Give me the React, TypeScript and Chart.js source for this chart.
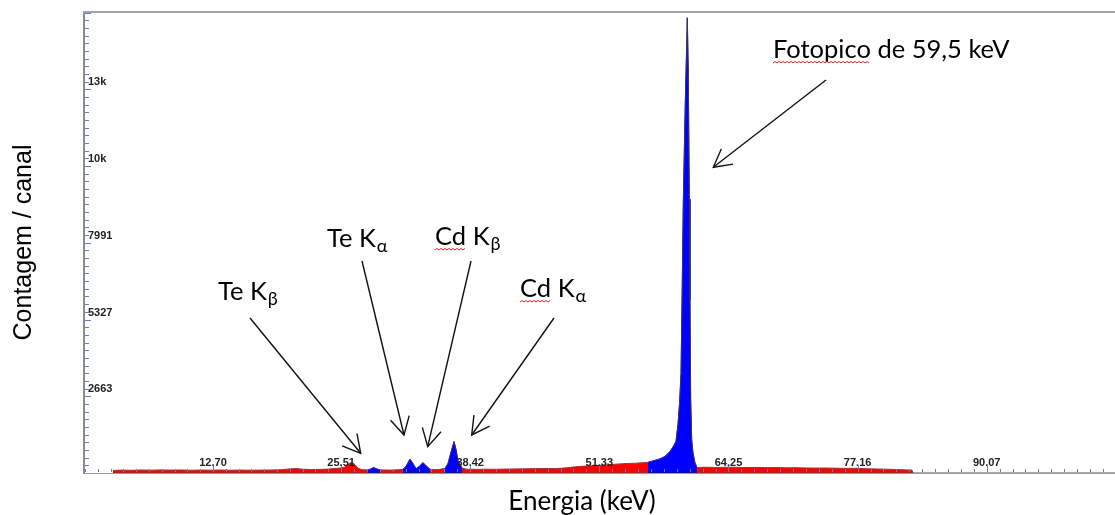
import React, { useEffect, useRef } from "react";
import { Chart, registerables } from "chart.js";

Chart.register(...registerables);

// ---------- data ----------
const ENERGY_KEV = [
  2.7, 3.5, 4.5, 5.5, 6.5, 7.5, 8.5, 9.5, 10.5, 11.5, 12.5, 13.5, 14.5, 15.5, 16.5, 17.5, 18.5, 19.5,
  20.3, 21.0, 21.7, 22.5, 23.5, 24.2, 24.8, 25.4, 25.9, 26.3, 26.6, 26.9, 27.2, 27.6,
  28.2, 28.5, 28.75, 29.0, 29.4, 30.0, 30.6, 31.2,
  31.7, 32.0, 32.4, 32.7, 33.0, 33.3, 33.7, 34.0, 34.4, 34.9, 35.4,
  35.9, 36.2, 36.5, 36.8, 37.0, 37.2, 37.6, 38.0, 39.0, 40.0, 41.0, 42.0, 43.0, 44.0, 45.0, 46.0,
  47.0, 48.0, 49.0, 50.0, 51.0, 52.0, 53.0, 54.0, 55.0, 55.7,
  56.2, 56.9, 57.4, 57.9, 58.4, 58.7, 59.0, 59.2, 59.35, 59.5, 59.6, 59.73, 59.93, 60.05, 60.13,
  60.23, 60.33, 60.4, 60.47, 60.57, 60.7, 60.9, 61.1,
  61.5, 62.0, 63.0, 64.0, 65.0, 66.0, 67.0, 68.0, 69.0, 70.0, 71.0, 72.0, 73.0, 74.0, 75.0, 76.0,
  77.0, 78.0, 79.0, 80.0, 81.0, 82.0, 82.6, 82.7, 102.9,
];

const COUNTS = [
  90, 100, 94, 105, 98, 108, 101, 105, 96, 103, 99, 105, 97, 101, 96, 100, 104, 112,
  140, 155, 132, 120, 126, 136, 154, 170, 205, 320, 380, 290, 165, 115,
  108, 140, 190, 150, 108, 104, 100, 112,
  128, 230, 480, 330, 150, 220, 360, 250, 128, 116, 128,
  160, 330, 720, 1090, 820, 430, 170, 134, 126, 132, 130, 136, 142, 146, 152, 156,
  154, 178, 218, 242, 258, 278, 308, 328, 342, 357,
  370, 440, 490, 575, 750, 900, 1100, 1700, 2400, 3450, 5900, 9400, 12900, 14600, 15800,
  13900, 9500, 6000, 2550, 1150, 700, 350, 190,
  195, 200, 192, 200, 196, 188, 194, 186, 190, 180, 184, 175, 170, 174, 165, 160,
  163, 150, 140, 132, 120, 108, 100, 0, 0,
];

// regions of interest (blue), keV
const ROI_RANGES_KEV = [
  [28.2, 29.4],
  [31.7, 34.4],
  [35.9, 37.6],
  [56.2, 61.1],
];

const X_TICK_VALUES = [12.7, 25.51, 38.42, 51.33, 64.25, 77.16, 90.07];
const X_TICK_LABELS = ["12.70", "25.51", "38.42", "51.33", "64.25", "77.16", "90.07"];
const Y_TICK_VALUES = [2663.6, 5327.2, 7990.8, 10654.4, 13318];
const Y_TICK_LABELS = ["2663", "5327", "7991", "10k", "13k"];

const X_TITLE = "Energia (keV)";
const Y_TITLE = "Contagem / canal";

// annotations: label anchor, arrow start and arrow tip in data units (keV, counts)
const ANNOTATIONS = [
  { main: "Te K", sub: "β", squiggle: "", at: [13.2, 6005], from: [16.4, 5380], to: [27.47, 684] },
  { main: "Te K", sub: "α", squiggle: "", at: [24.1, 7844], from: [27.6, 7359], to: [31.8, 1319] },
  { main: "Cd K", sub: "β", squiggle: "Cd", at: [34.9, 7914], from: [38.5, 7359], to: [34.17, 913] },
  { main: "Cd K", sub: "α", squiggle: "Cd", at: [43.4, 6109], from: [46.8, 5380], to: [38.57, 1319] },
  { main: "Fotopico de 59,5 keV", sub: "", squiggle: "Fotopico", at: [68.7, 14405], from: [74.0, 13641], to: [62.73, 10611] },
];

const ANNOT_FONT = "Lato, 'Open Sans', sans-serif";

const inwardTicksPlugin = {
  id: "inwardTicks",
  afterDatasetsDraw(chart: any) {
    const { ctx, chartArea } = chart;
    const xs = chart.scales.x;
    const ys = chart.scales.y;
    ctx.save();
    ctx.strokeStyle = "#5b7fd6";
    ctx.lineWidth = 1;
    // y minor ticks (10 per major)
    const yStep = Y_TICK_VALUES[0] / 10;
    for (let i = 1; i * yStep <= ys.max; i++) {
      const py = Math.round(ys.getPixelForValue(i * yStep)) + 0.5;
      const len = i % 10 === 0 ? 6 : 4;
      ctx.beginPath();
      ctx.moveTo(chartArea.left + 1, py);
      ctx.lineTo(chartArea.left + 1 + len, py);
      ctx.stroke();
    }
    // x minor ticks (10 per major)
    const xt: { v: number; major: boolean }[] = [];
    const first = X_TICK_VALUES[0];
    const s0 = (X_TICK_VALUES[1] - X_TICK_VALUES[0]) / 10;
    for (let v = first - s0; v > xs.min; v -= s0) xt.push({ v, major: false });
    for (let k = 0; k < X_TICK_VALUES.length; k++) {
      xt.push({ v: X_TICK_VALUES[k], major: true });
      const next = k + 1 < X_TICK_VALUES.length ? X_TICK_VALUES[k + 1] : null;
      const step = next !== null ? (next - X_TICK_VALUES[k]) / 10 : (X_TICK_VALUES[k] - X_TICK_VALUES[k - 1]) / 10;
      const end = next !== null ? next - step / 2 : xs.max;
      for (let v = X_TICK_VALUES[k] + step; v < end; v += step) xt.push({ v, major: false });
    }
    for (const t of xt) {
      const px = Math.round(xs.getPixelForValue(t.v)) + 0.5;
      const len = t.major ? 6 : 3;
      ctx.beginPath();
      ctx.moveTo(px, chartArea.bottom - 1);
      ctx.lineTo(px, chartArea.bottom - 1 - len);
      ctx.stroke();
    }
    ctx.restore();
  },
};

function squiggle(ctx: any, x0: number, x1: number, y: number) {
  ctx.save();
  ctx.strokeStyle = "#e02020";
  ctx.lineWidth = 1;
  ctx.beginPath();
  let up = true;
  ctx.moveTo(x0, y);
  for (let x = x0 + 2; x <= x1; x += 2) {
    ctx.lineTo(x, up ? y - 1.5 : y);
    up = !up;
  }
  ctx.stroke();
  ctx.restore();
}

const annotationPlugin = {
  id: "annotations",
  afterDraw(chart: any) {
    const { ctx, chartArea } = chart;
    const xs = chart.scales.x;
    const ys = chart.scales.y;
    ctx.save();
    // top frame line
    ctx.strokeStyle = "#a3a3a3";
    ctx.lineWidth = 2;
    ctx.beginPath();
    ctx.moveTo(chartArea.left - 1, chartArea.top);
    ctx.lineTo(chartArea.right, chartArea.top);
    ctx.stroke();

    for (const a of ANNOTATIONS) {
      const tx = xs.getPixelForValue(a.at[0]);
      const ty = ys.getPixelForValue(a.at[1]);
      ctx.fillStyle = "#000";
      ctx.textBaseline = "alphabetic";
      ctx.textAlign = "left";
      ctx.font = `25.5px ${ANNOT_FONT}`;
      ctx.fillText(a.main, tx, ty);
      const w = ctx.measureText(a.main).width;
      if (a.squiggle) {
        const sw = ctx.measureText(a.squiggle).width;
        squiggle(ctx, tx, tx + sw, ty + 5);
      }
      if (a.sub) {
        ctx.font = `18px ${ANNOT_FONT}`;
        ctx.fillText(a.sub, tx + w + 1, ty + 5);
      }
      // arrow
      const x0 = xs.getPixelForValue(a.from[0]);
      const y0 = ys.getPixelForValue(a.from[1]);
      const x1 = xs.getPixelForValue(a.to[0]);
      const y1 = ys.getPixelForValue(a.to[1]);
      ctx.strokeStyle = "#111";
      ctx.lineWidth = 1.4;
      ctx.beginPath();
      ctx.moveTo(x0, y0);
      ctx.lineTo(x1, y1);
      ctx.stroke();
      const ang = Math.atan2(y0 - y1, x0 - x1);
      const hl = 20;
      const spread = 0.5;
      ctx.beginPath();
      ctx.moveTo(x1 + hl * Math.cos(ang + spread), y1 + hl * Math.sin(ang + spread));
      ctx.lineTo(x1, y1);
      ctx.lineTo(x1 + hl * Math.cos(ang - spread), y1 + hl * Math.sin(ang - spread));
      ctx.stroke();
    }

    // x axis title
    ctx.fillStyle = "#000";
    ctx.font = `26px ${ANNOT_FONT}`;
    ctx.textAlign = "center";
    ctx.textBaseline = "alphabetic";
    ctx.fillText(X_TITLE, chartArea.left + 498, chartArea.bottom + 37);
    ctx.restore();
  },
};

export default function App() {
  const canvasRef = useRef<HTMLCanvasElement | null>(null);

  useEffect(() => {
    const canvas = canvasRef.current;
    if (!canvas) return;
    const spectrum = ENERGY_KEV.map((e, i) => ({ x: e, y: COUNTS[i] }));
    const blueSets = ROI_RANGES_KEV.map(([lo, hi]) => ({
      label: `ROI ${lo}-${hi}`,
      data: spectrum.filter((p) => p.x >= lo - 1e-9 && p.x <= hi + 1e-9),
      backgroundColor: "#0000ff",
      borderColor: "#333366",
      borderWidth: 1,
      fill: "origin",
      pointRadius: 0,
      tension: 0,
      order: 0,
    }));
    const chart = new Chart(canvas, {
      type: "line",
      data: {
        datasets: [
          ...blueSets,
          {
            label: "Espectro",
            data: spectrum,
            backgroundColor: "#ff0000",
            borderColor: "#555555",
            borderWidth: 1,
            fill: "origin",
            pointRadius: 0,
            tension: 0,
            order: 1,
          },
        ],
      },
      options: {
        animation: false,
        responsive: false,
        events: [],
        layout: { padding: { top: 12, left: 0, right: 0, bottom: 0 } },
        plugins: { legend: { display: false }, tooltip: { enabled: false } },
        scales: {
          x: {
            type: "linear",
            min: -0.2,
            max: 102.9,
            afterBuildTicks: (scale: any) => {
              scale.ticks = X_TICK_VALUES.map((v) => ({ value: v }));
            },
            afterFit: (scale: any) => {
              scale.height = 42;
            },
            ticks: {
              autoSkip: false,
              maxRotation: 0,
              mirror: true,
              padding: 3,
              z: 1,
              color: "#222",
              font: { family: "'Liberation Sans', Arial, sans-serif", size: 11, weight: "bold" },
              callback: (_v: any, i: number) => X_TICK_LABELS[i],
            },
            grid: { display: true, drawOnChartArea: false, drawTicks: false },
            border: { display: true, color: "#9a9a9a", width: 1 },
          },
          y: {
            type: "linear",
            min: 0,
            max: 16000,
            afterBuildTicks: (scale: any) => {
              scale.ticks = Y_TICK_VALUES.map((v) => ({ value: v }));
            },
            afterFit: (scale: any) => {
              scale.width = 84;
            },
            ticks: {
              autoSkip: false,
              mirror: true,
              padding: 4,
              labelOffset: -7,
              color: "#222",
              font: { family: "'Liberation Sans', Arial, sans-serif", size: 11, weight: "bold" },
              callback: (_v: any, i: number) => Y_TICK_LABELS[i],
            },
            title: {
              display: true,
              text: Y_TITLE,
              color: "#000",
              font: { family: "'Liberation Sans', Arial, sans-serif", size: 25, weight: "normal" },
              padding: { top: 9, bottom: 0 },
            },
            grid: { display: true, drawOnChartArea: false, drawTicks: false },
            border: { display: true, color: "#8c8c8c", width: 2 },
          },
        },
      },
      plugins: [inwardTicksPlugin, annotationPlugin],
    } as any);
    return () => chart.destroy();
  }, []);

  return (
    <div style={{ position: "fixed", left: 0, top: 0, width: 1115, height: 515, overflow: "hidden", background: "#fff" }}>
      <canvas ref={canvasRef} width={1115} height={515} style={{ display: "block", width: 1115, height: 515 }} />
    </div>
  );
}
